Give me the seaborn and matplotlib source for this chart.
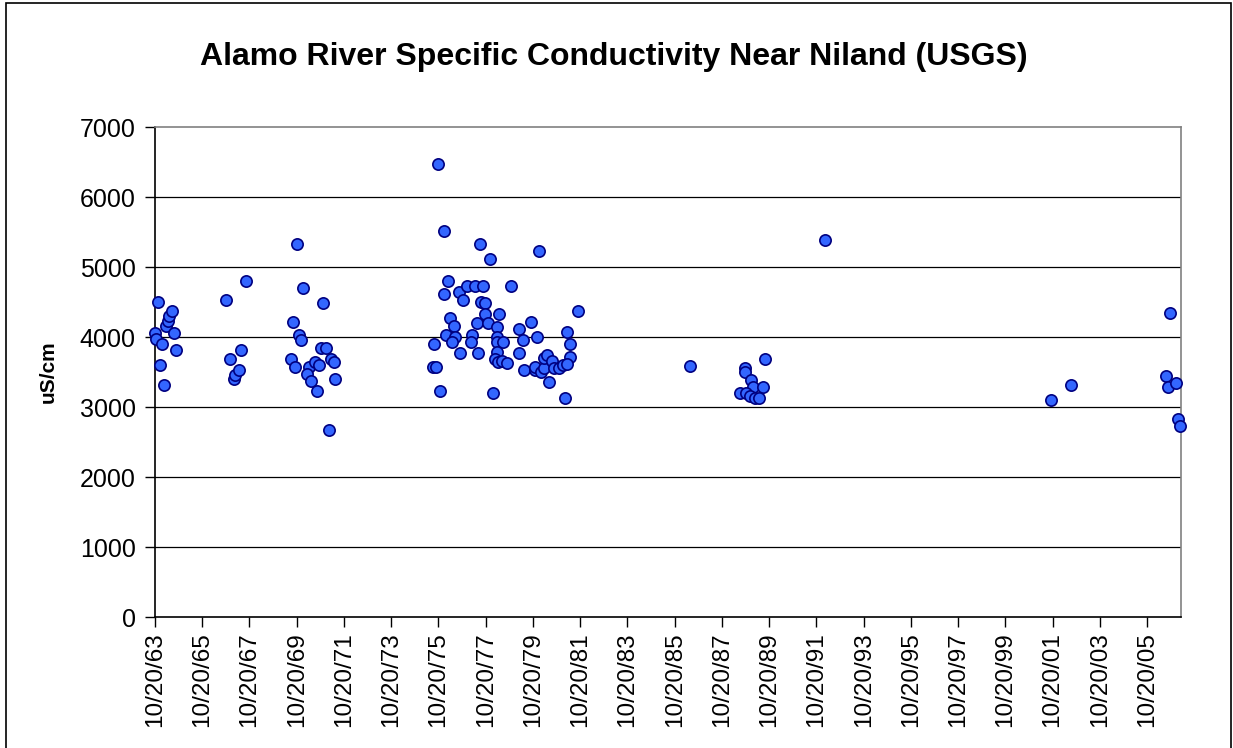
import pandas as pd
import numpy as np

import matplotlib
matplotlib.use("Agg")
import matplotlib.pyplot as plt
import matplotlib.dates as mdates
import seaborn as sns


# Sample dates (decimal years) and conductivity (uS/cm)
years = [
    1963.91, 1963.80, 1963.84, 1964.10, 1964.01, 1964.17, 1964.27, 1964.34,
    1964.41, 1964.52, 1964.62, 1964.70,
    1966.82, 1966.99, 1967.16, 1967.20, 1967.35, 1967.44, 1967.67,
    1969.81, 1970.07, 1969.63, 1969.91, 1970.00, 1969.55, 1969.73, 1970.32,
    1970.24, 1970.42, 1970.67, 1970.59, 1970.76, 1970.84, 1971.03, 1970.93,
    1971.27, 1971.37, 1971.44, 1971.18,
    1975.79, 1976.04, 1977.57, 1978.00, 1980.06, 1976.22, 1976.04, 1976.65,
    1976.82, 1977.00, 1977.34, 1977.68, 1978.87, 1977.62, 1977.78, 1976.29,
    1976.48, 1977.76, 1978.36, 1977.41, 1977.90, 1978.29, 1976.13, 1976.49,
    1977.24, 1975.60, 1976.38, 1977.17, 1978.29, 1978.29, 1978.54, 1976.73,
    1977.49, 1978.29, 1975.59, 1975.71, 1978.20, 1978.30, 1978.47, 1978.71,
    1975.87, 1978.10, 1979.20, 1979.73, 1979.39, 1979.97, 1979.20, 1979.44,
    1979.88, 1979.88, 1980.15, 1980.25, 1980.28, 1980.40, 1980.59, 1980.69,
    1980.91, 1981.09, 1981.24, 1981.35, 1981.35, 1981.26, 1980.49, 1981.15,
    1981.70,
    1992.18, 1986.46, 1989.62, 1988.76, 1988.76, 1989.03, 1989.12, 1989.55,
    1988.58, 1988.83, 1989.00, 1989.21, 1989.37,
    2001.75, 2002.58, 2006.79, 2006.61, 2006.69, 2007.03, 2007.13, 2007.21,
]

conductivity = [
    4504, 4061, 3976, 3900, 3604, 3314, 4161, 4229,
    4300, 4376, 4052, 3814,
    4529, 3681, 3395, 3452, 3529, 3814, 4800,
    5329, 4695, 4214, 4033, 3952, 3686, 3576, 3576,
    3467, 3367, 3233, 3638, 3600, 3843, 3843, 4481,
    3686, 3638, 3395, 2671,
    6471, 5519, 5333, 5119, 5229, 4805, 4614, 4643,
    4533, 4729, 4729, 4729, 4729, 4505, 4481, 4271,
    4162, 4324, 4324, 4195, 4195, 4138, 4033, 4005,
    4033, 3900, 3924, 3924, 4005, 3924, 3924, 3767,
    3767, 3790, 3576, 3576, 3686, 3648, 3657, 3633,
    3233, 3205, 4110, 4214, 3952, 4005, 3767, 3529,
    3529, 3576, 3500, 3552, 3705, 3743, 3662, 3552,
    3552, 3600, 4076, 3895, 3719, 3610, 3362, 3124,
    4376,
    5386, 3581, 3686, 3552, 3505, 3386, 3290, 3290,
    3205, 3205, 3157, 3133, 3124,
    3100, 3314, 4348, 3443, 3286, 3338, 2833, 2729,
]

title = "Alamo River Specific Conductivity Near Niland (USGS)"
y_label = "uS/cm"
y_ticks = [0, 1000, 2000, 3000, 4000, 5000, 6000, 7000]
tick_years = list(range(1963, 2006, 2))


def to_date(y):
    yr = int(y)
    return pd.Timestamp(yr, 1, 1) + pd.Timedelta(days=(y - yr) * 365.25)


df = pd.DataFrame({
    "date": [to_date(y) for y in years],
    "uScm": conductivity,
})

sns.set_style("white")
plt.rcParams["font.family"] = ["Liberation Sans", "DejaVu Sans"]
plt.rcParams["text.color"] = "black"
plt.rcParams["xtick.color"] = "black"
plt.rcParams["ytick.color"] = "black"
plt.rcParams["axes.labelcolor"] = "black"

fig = plt.figure(figsize=(12.33, 7.48), dpi=100)
ax = fig.add_axes([0.1257, 0.1751, 0.8321, 0.6551])

# gridlines first so markers sit on top
for v in y_ticks[1:-1]:
    ax.axhline(v, color="black", lw=0.9, zorder=1)

sns.scatterplot(
    data=df,
    x="date",
    y="uScm",
    s=66,
    color="#3366FF",
    edgecolor="#000080",
    linewidth=1.2,
    clip_on=False,
    zorder=3,
    ax=ax
)

ax.set_xlim(pd.Timestamp("1963-10-20"), pd.Timestamp("2007-03-28"))
ax.set_ylim(0, 7000)

ax.set_yticks(y_ticks)
ax.set_xticks([pd.Timestamp(f"{y}-10-20") for y in tick_years])
ax.xaxis.set_major_formatter(mdates.DateFormatter("%m/%d/%y"))

ax.tick_params(axis="x", labelrotation=90, labelsize=17.5, length=7,
               width=1, direction="out", bottom=True, pad=4)
ax.tick_params(axis="y", labelsize=18, length=7, width=1,
               direction="out", left=True, pad=7)

for s in ["left", "bottom"]:
    ax.spines[s].set_color("black")
    ax.spines[s].set_linewidth(1.2)
for s in ["top", "right"]:
    ax.spines[s].set_color("#808080")
    ax.spines[s].set_linewidth(1.2)

ax.set_xlabel("")
ax.set_ylabel(y_label, fontsize=15, fontweight="bold", labelpad=16)

fig.text(0.498, 0.924, title, ha="center", va="center",
         fontsize=23, fontweight="bold")

# outer chart border
fig.patches.append(plt.Rectangle((6 / 1233, -0.01), 1225 / 1233, 1.01 - 3 / 748,
                                 transform=fig.transFigure, fill=False,
                                 edgecolor="black", lw=1.2))

fig.savefig("out.png", dpi=100)
